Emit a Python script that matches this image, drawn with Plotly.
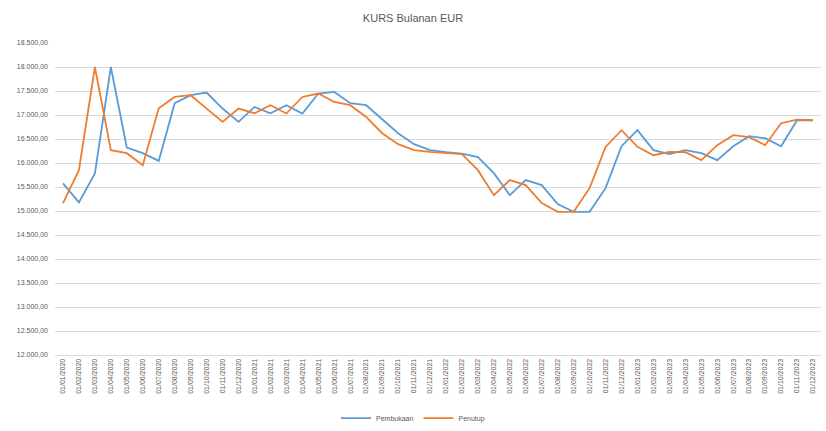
import plotly.graph_objects as go

# Monthly categories (01/MM/YYYY)
categories = [f"01/{m:02d}/{y}" for y in (2020, 2021, 2022, 2023) for m in range(1, 13)]

pembukaan = [15574, 15179, 15782, 18000, 16323, 16205, 16044, 17245, 17412, 17468,
             17135, 16856, 17168, 17037, 17204, 17031, 17447, 17480, 17245, 17204,
             16912, 16621, 16392, 16267, 16225, 16194, 16121, 15788, 15331, 15643,
             15539, 15143, 14983, 14983, 15476, 16350, 16683, 16267, 16184, 16267,
             16205, 16059, 16350, 16558, 16517, 16350, 16891, 16891]

penutup = [15164, 15851, 18000, 16267, 16205, 15955, 17141, 17376, 17412, 17141,
           16856, 17135, 17037, 17204, 17031, 17376, 17447, 17272, 17204, 16960,
           16621, 16392, 16267, 16232, 16211, 16184, 15851, 15331, 15643, 15539,
           15164, 14983, 14983, 15476, 16336, 16683, 16336, 16163, 16232, 16225,
           16059, 16371, 16579, 16538, 16371, 16829, 16902, 16891]

y_ticks = [12000 + 500 * k for k in range(14)]

fig = go.Figure()
fig.add_trace(go.Scatter(x=categories, y=pembukaan, mode="lines", name="Pembukaan",
                         line=dict(color="#5B9BD5", width=1.8)))
fig.add_trace(go.Scatter(x=categories, y=penutup, mode="lines", name="Penutup",
                         line=dict(color="#ED7D31", width=1.8)))

fig.update_layout(
    width=826, height=431,
    margin=dict(l=55, r=5, t=43, b=76),
    paper_bgcolor="white", plot_bgcolor="white",
    separators=",.",
    font=dict(family="Liberation Sans, Arial, sans-serif", color="#595959"),
    title=dict(text="KURS Bulanan EUR", x=0.5, xref="container", xanchor="center",
               y=0.957, yref="container", yanchor="middle",
               font=dict(size=11, color="#595959")),
    showlegend=True,
    legend=dict(orientation="h", x=0.5, xanchor="center", xref="container",
                y=0.03, yref="container", yanchor="middle",
                font=dict(size=7, color="#595959"), itemwidth=30),
)

fig.update_xaxes(type="category", range=[-0.5, len(categories) - 0.5],
                 tickangle=-90, tickfont=dict(size=7, color="#595959"),
                 showgrid=False, showline=True, linecolor="#D9D9D9", linewidth=1,
                 ticks="", zeroline=False)
fig.update_yaxes(range=[12000, 18500], tickvals=y_ticks, tickformat=",.2f",
                 tickfont=dict(size=7, color="#595959"), ticklabelstandoff=6,
                 showgrid=True, gridcolor="#D9D9D9", gridwidth=1,
                 showline=False, zeroline=False, ticks="")

fig.write_html("out.html")
